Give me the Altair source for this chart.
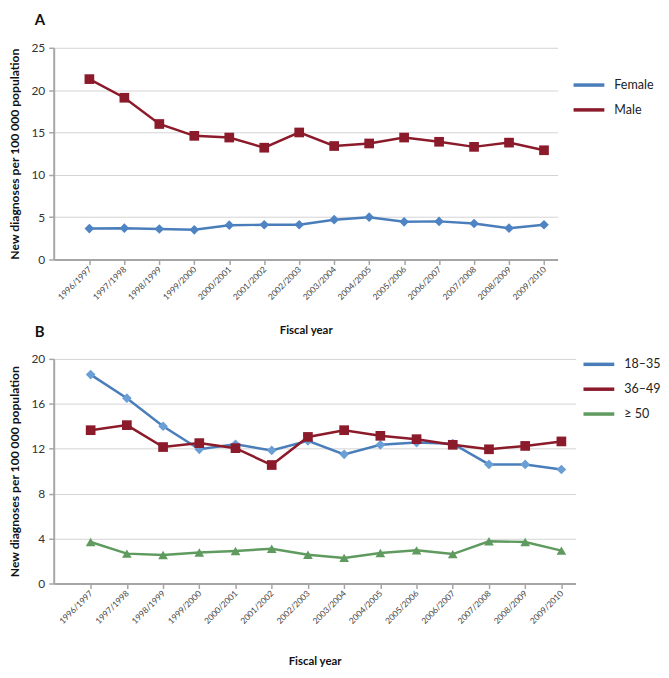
import altair as alt
import pandas as pd

years = ["1996/1997", "1997/1998", "1998/1999", "1999/2000", "2000/2001", "2001/2002",
         "2002/2003", "2003/2004", "2004/2005", "2005/2006", "2006/2007", "2007/2008",
         "2008/2009", "2009/2010"]

# Panel A (per 100 000)
sex_series = ["Female", "Male"]
female = [3.65, 3.7, 3.6, 3.5, 4.05, 4.1, 4.1, 4.7, 5.0, 4.45, 4.5, 4.25, 3.7, 4.1]
male = [21.3, 19.1, 16.0, 14.6, 14.4, 13.2, 15.0, 13.4, 13.7, 14.4, 13.9, 13.3, 13.8, 12.9]

# Panel B (per 100 000)
age_series = ["18\u201335", "36\u201349", "\u2265 50"]
age_18_35 = [18.6, 16.5, 14.0, 11.95, 12.4, 11.85, 12.7, 11.5, 12.35, 12.55, 12.45, 10.6, 10.6, 10.15]
age_36_49 = [13.65, 14.1, 12.15, 12.5, 12.05, 10.55, 13.05, 13.65, 13.15, 12.85, 12.35, 11.95, 12.25, 12.65]
age_50 = [3.7, 2.66, 2.54, 2.76, 2.9, 3.1, 2.56, 2.28, 2.72, 2.95, 2.62, 3.76, 3.7, 2.93]

FONT = "Lato"
label_expr = "[" + ",".join("'" + y + "'" for y in years) + "][datum.value]"


def long_df(series_names, series_values):
    rows = []
    for name, vals in zip(series_names, series_values):
        for i, (yr, v) in enumerate(zip(years, vals)):
            rows.append({"idx": i, "year": yr, "series": name, "value": v})
    return pd.DataFrame(rows)


def panel(df, series, line_colors, marker_colors, shapes, ymax, ystep, width, height,
          letter, letter_offset, legend_x, legend_y, row_pad, title_pad_x):
    x = alt.X(
        "idx:Q",
        scale=alt.Scale(domain=[-1.02, 13.39], nice=False, zero=False),
        axis=alt.Axis(
            values=list(range(len(years))), labelExpr=label_expr, labelAngle=-45,
            labelAlign="right", labelBaseline="middle", labelFontSize=8.5,
            labelPadding=3, labelColor="#444", labelOverlap=False, grid=False, tickSize=5,
            tickColor="#a6a6a6", tickWidth=1.5, domainColor="#a6a6a6", domainWidth=2,
            title="Fiscal year", titleFontSize=11.5, titleFontWeight="bold",
            titleColor="#111", titlePadding=title_pad_x, labelFlush=False,
        ),
    )
    y = alt.Y(
        "value:Q",
        scale=alt.Scale(domain=[0, ymax], nice=False),
        axis=alt.Axis(
            values=list(range(0, ymax + 1, ystep)), labelFontSize=12, labelColor="#333",
            labelPadding=4, tickSize=5, tickColor="#a6a6a6", tickWidth=1.5,
            domainColor="#a6a6a6", domainWidth=2, gridColor="#d4d4d4", gridWidth=1,
            title="New diagnoses per 100 000 population", titleFontSize=12.2,
            titleFontWeight="bold", titleColor="#111", titlePadding=10,
        ),
    )
    lines = alt.Chart(df).mark_line(strokeWidth=2.5).encode(
        x=x, y=y,
        color=alt.Color(
            "series:N", sort=series,
            scale=alt.Scale(domain=series, range=line_colors),
            legend=alt.Legend(
                title=None, orient="none", legendX=legend_x, legendY=legend_y,
                symbolType="stroke", symbolSize=961, symbolStrokeWidth=3.5,
                labelFontSize=12.6, labelColor="#222", labelOffset=8, rowPadding=row_pad,
            ),
        ),
        order=alt.Order("idx:Q"),
    )
    points = alt.Chart(df).mark_point(filled=True, size=95, opacity=1, strokeWidth=0).encode(
        x=x, y=y,
        fill=alt.Fill("series:N", sort=series,
                      scale=alt.Scale(domain=series, range=marker_colors), legend=None),
        shape=alt.Shape("series:N", sort=series,
                        scale=alt.Scale(domain=series, range=shapes), legend=None),
    )
    return alt.layer(lines, points).properties(
        width=width, height=height,
        title=alt.TitleParams(letter, anchor="start", frame="group", dx=-19,
                              offset=letter_offset, baseline="alphabetic", fontSize=15,
                              fontWeight="bold", color="#111", font=FONT),
    ).resolve_scale(color="independent", fill="independent", shape="independent")


df_a = long_df(sex_series, [female, male])
df_b = long_df(age_series, [age_18_35, age_36_49, age_50])

chart_a = panel(df_a, sex_series, ["#4a7ebb", "#8b1a2a"], ["#4f84c4", "#8b1a2a"],
                ["diamond", "square"], 25, 5, 507, 213, "A", 2, 521, 20, -6, 24)
chart_b = panel(df_b, age_series, ["#4a7ebb", "#8b1a2a", "#5f9a5f"],
                ["#6a9fd6", "#8b1a2a", "#5f9a5f"], ["diamond", "square", "triangle-up"],
                20, 4, 525, 226, "B", -5.3, 531, -12, -6, 31)

chart = alt.vconcat(chart_a, chart_b, spacing=100, bounds="flush").resolve_scale(
    color="independent", fill="independent", shape="independent", x="independent",
    y="independent"
).configure(
    font=FONT, padding={"left": 0, "top": 3, "right": 0, "bottom": 0}
).configure_view(stroke=None)

chart.save("out.html", embed_options={"renderer": "svg", "actions": False})
